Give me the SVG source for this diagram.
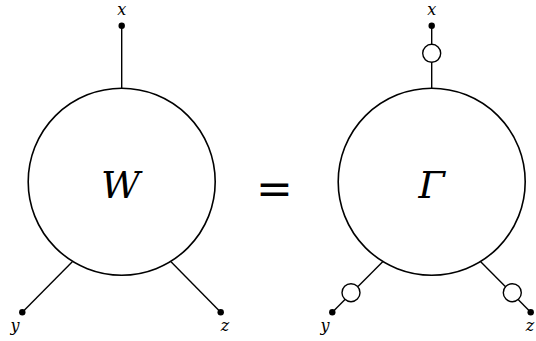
<svg xmlns="http://www.w3.org/2000/svg" width="536" height="341" viewBox="0 0 536 341">
<style>
.big{fill:#fff;stroke:#000;stroke-width:1.6}
.small{fill:#fff;stroke:#000;stroke-width:1.4}
.ln{stroke:#000;stroke-width:1.4;fill:none}
.dot{fill:#000}
.lbl{font-family:"DejaVu Serif","Liberation Serif",serif;font-style:italic;font-size:16px;text-anchor:middle;fill:#000}
.sym{font-family:"DejaVu Serif","Liberation Serif",serif;font-style:italic;font-size:38px;text-anchor:middle;fill:#000}
.eq{font-family:"DejaVu Serif","Liberation Serif",serif;font-size:44px;text-anchor:middle;fill:#000}
</style>
<rect width="536" height="341" fill="#fff"/>
<g id="connectors">
<line class="ln" x1="121.7" y1="25.7" x2="121.7" y2="88.2"/>
<line class="ln" x1="72.3" y1="261.7" x2="22.3" y2="312.3"/>
<line class="ln" x1="171" y1="261.7" x2="220.7" y2="312.3"/>
<line class="ln" x1="431.7" y1="25.7" x2="431.7" y2="88.2"/>
<line class="ln" x1="382.7" y1="261.7" x2="332.3" y2="312.3"/>
<line class="ln" x1="480.7" y1="261.7" x2="530.7" y2="312.3"/>
</g>
<g id="W">
<circle class="big" cx="121.7" cy="181.7" r="93.5"/>
<text class="sym" x="120.5" y="198">W</text>
</g>
<g id="Gamma">
<circle class="big" cx="431.7" cy="181.7" r="93.5"/>
<text class="sym" x="431.7" y="198">Γ</text>
</g>
<g id="equals">
<text class="eq" x="274.5" y="204">=</text>
</g>
<g id="props">
<circle class="small" cx="431.7" cy="53.3" r="9"/>
<circle class="small" cx="351" cy="292.7" r="9"/>
<circle class="small" cx="512.3" cy="292.7" r="9"/>
</g>
<g id="ext-left">
<circle class="dot" cx="121.7" cy="25.7" r="3.2"/>
<circle class="dot" cx="22.3" cy="312.3" r="3.2"/>
<circle class="dot" cx="220.7" cy="312.3" r="3.2"/>
<text class="lbl" x="121.7" y="15">x</text>
<text class="lbl" x="15" y="331">y</text>
<text class="lbl" x="225" y="331">z</text>
</g>
<g id="ext-right">
<circle class="dot" cx="431.7" cy="25.7" r="3.2"/>
<circle class="dot" cx="332.3" cy="312.3" r="3.2"/>
<circle class="dot" cx="530.7" cy="312.3" r="3.2"/>
<text class="lbl" x="431.7" y="15">x</text>
<text class="lbl" x="325" y="331">y</text>
<text class="lbl" x="530" y="331">z</text>
</g>
</svg>
